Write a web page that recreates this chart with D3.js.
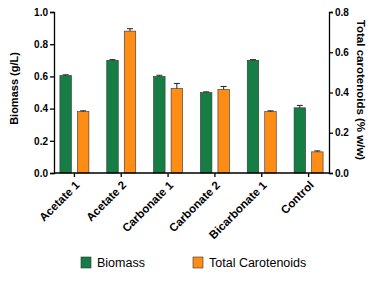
<!DOCTYPE html>
<html>
<head>
<meta charset="utf-8">
<script src="https://cdn.jsdelivr.net/npm/d3@7"></script>
<style>
  body { margin: 0; background: #fff; }
  svg { font-family: "Liberation Sans", Arial, sans-serif; }
</style>
</head>
<body>
<svg id="chart" width="383" height="286"></svg>
<script>
// Chart data
const categories = ['Acetate 1', 'Acetate 2', 'Carbonate 1', 'Carbonate 2', 'Bicarbonate 1', 'Control'];
const biomass = [0.605, 0.70, 0.60, 0.50, 0.70, 0.405];
const biomassErr = [0.005, 0.004, 0.007, 0.004, 0.004, 0.015];
const carotenoids = [0.305, 0.705, 0.42, 0.415, 0.305, 0.105];
const carotenoidsErr = [0.004, 0.012, 0.025, 0.015, 0.004, 0.005];
const leftTicks = [0, 0.2, 0.4, 0.6, 0.8, 1.0];
const rightTicks = [0, 0.2, 0.4, 0.6, 0.8];

const svg = d3.select('#chart');
const margin = { top: 12, left: 54, right: 54, bottom: 113 };
const width = 383, height = 286;
const plotW = width - margin.left - margin.right;
const plotH = height - margin.top - margin.bottom;

const green = '#167d44';
const orange = '#ff8c14';

const x = d3.scaleBand().domain(categories).range([-3, plotW + 3]).paddingInner(0).paddingOuter(0);
const yL = d3.scaleLinear().domain([0, 1]).range([plotH, 0]);
const yR = d3.scaleLinear().domain([0, 0.8]).range([plotH, 0]);

const g = svg.append('g').attr('transform', `translate(${margin.left},${margin.top})`);

const barW = 11.5;
const gap = 6;

function drawSeries(values, errs, scale, color, offset) {
    const grp = g.append('g');
    grp.selectAll('rect')
        .data(values)
        .enter().append('rect')
        .attr('x', (d, i) => x(categories[i]) + x.bandwidth() / 2 + offset)
        .attr('y', d => scale(d))
        .attr('width', barW)
        .attr('height', d => plotH - scale(d))
        .attr('fill', color)
        .attr('stroke', '#333')
        .attr('stroke-width', 0.6);

    // error bars (upper only)
    values.forEach((d, i) => {
        const cx = x(categories[i]) + x.bandwidth() / 2 + offset + barW / 2;
        const top = scale(d + errs[i]);
        grp.append('line')
            .attr('x1', cx).attr('x2', cx)
            .attr('y1', scale(d)).attr('y2', top)
            .attr('stroke', '#222').attr('stroke-width', 1);
        grp.append('line')
            .attr('x1', cx - 3).attr('x2', cx + 3)
            .attr('y1', top).attr('y2', top)
            .attr('stroke', '#222').attr('stroke-width', 1);
    });
}

drawSeries(biomass, biomassErr, yL, green, -barW - gap / 2);
drawSeries(carotenoids, carotenoidsErr, yR, orange, gap / 2);

// Axes
const leftAxis = d3.axisLeft(yL).tickValues(leftTicks).tickFormat(d3.format('.1f')).tickSize(4).tickPadding(2);
const rightAxis = d3.axisRight(yR).tickValues(rightTicks).tickFormat(d3.format('.1f')).tickSize(4).tickPadding(2);
const bottomAxis = d3.axisBottom(x).tickSize(4).tickFormat('');

function styleAxis(sel) {
    sel.select('.domain').attr('stroke', '#000').attr('stroke-width', 1.3);
    sel.selectAll('.tick line').attr('stroke', '#000').attr('stroke-width', 1.3);
    sel.selectAll('.tick text')
        .style('font-size', '10px')
        .style('font-weight', 'bold')
        .attr('fill', '#000');
}

g.append('g').call(leftAxis).call(styleAxis);
g.append('g').attr('transform', `translate(${plotW},0)`).call(rightAxis).call(styleAxis);
const xg = g.append('g').attr('transform', `translate(0,${plotH})`).call(bottomAxis).call(styleAxis);
xg.select('.domain').attr('d', `M0,0H${plotW}`);

// Category labels, rotated
g.selectAll('.cat-label')
    .data(categories)
    .enter().append('text')
    .attr('class', 'cat-label')
    .attr('transform', d => `translate(${x(d) + x.bandwidth() / 2 + 3},${plotH + 10}) rotate(-45)`)
    .attr('text-anchor', 'end')
    .attr('dy', '0.35em')
    .style('font-size', '11.5px')
    .style('font-weight', 'bold')
    .text(d => d);

// Axis titles
svg.append('text')
    .attr('transform', `translate(18,${margin.top + plotH / 2 - 4}) rotate(-90)`)
    .attr('text-anchor', 'middle')
    .style('font-size', '11px')
    .style('font-weight', 'bold')
    .text('Biomass (g/L)');

svg.append('text')
    .attr('transform', `translate(357,${margin.top + 78}) rotate(90)`)
    .attr('text-anchor', 'middle')
    .style('font-size', '11.5px')
    .style('font-weight', 'bold')
    .text('Total carotenoids (% w/w)');

// Legend
const legend = [
    { label: 'Biomass', color: green, x: 81 },
    { label: 'Total Carotenoids', color: orange, x: 193 }
];
const lg = svg.selectAll('.legend')
    .data(legend)
    .enter().append('g')
    .attr('transform', d => `translate(${d.x},257)`);
lg.append('rect')
    .attr('width', 10).attr('height', 11)
    .attr('fill', d => d.color)
    .attr('stroke', '#333').attr('stroke-width', 0.6);
lg.append('text')
    .attr('x', 16).attr('y', 10)
    .style('font-size', '12.5px')
    .text(d => d.label);
</script>
</body>
</html>
